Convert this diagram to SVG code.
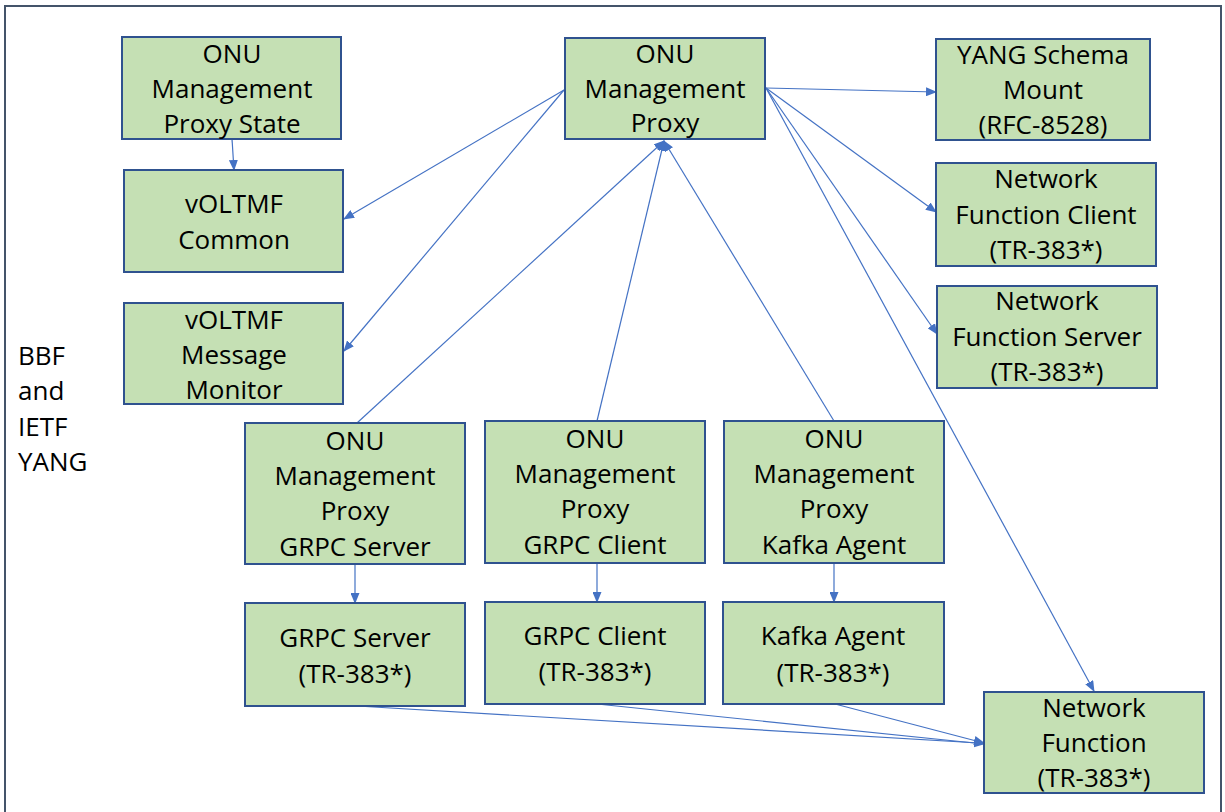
<svg xmlns="http://www.w3.org/2000/svg" width="1225" height="812" viewBox="0 0 1225 812">
<style>
.box{fill:#C5E0B4;stroke:#2F528F;stroke-width:2}
.t{font-family:"Open Sans","Liberation Sans",sans-serif;font-size:26px;fill:#000;text-anchor:middle}
.l{font-family:"Open Sans","Liberation Sans",sans-serif;font-size:26px;fill:#000}
.c{stroke:#4472C4;stroke-width:1.2;fill:none;marker-end:url(#ah)}
</style>
<defs>
<marker id="ah" markerUnits="userSpaceOnUse" markerWidth="11" markerHeight="9" refX="10" refY="4.5" orient="auto">
<path d="M0,0 L11,4.5 L0,9 z" fill="#4472C4"/>
</marker>
</defs>
<rect width="1225" height="812" fill="#fff"/>
<rect x="5" y="6" width="1216" height="820" fill="none" stroke="#44546A" stroke-width="2"/>
<text class="l" x="18"><tspan x="18" y="365">BBF</tspan><tspan x="18" y="400">and</tspan><tspan x="18" y="436">IETF</tspan><tspan x="18" y="471">YANG</tspan></text>

<g id="connectors">
<line class="c" x1="232" y1="139" x2="234" y2="170"/>
<line class="c" x1="564" y1="90" x2="344" y2="219"/>
<line class="c" x1="564" y1="90" x2="344" y2="351"/>
<line class="c" x1="766" y1="88" x2="936" y2="92"/>
<line class="c" x1="766" y1="88" x2="936" y2="212"/>
<line class="c" x1="766" y1="88" x2="937" y2="334"/>
<line class="c" x1="766" y1="88" x2="1094" y2="691"/>
<line class="c" x1="357" y1="423" x2="664" y2="141"/>
<line class="c" x1="597" y1="421" x2="664" y2="141"/>
<line class="c" x1="834" y1="421" x2="664" y2="141"/>
<line class="c" x1="355" y1="564" x2="355" y2="603"/>
<line class="c" x1="597" y1="563" x2="597" y2="602"/>
<line class="c" x1="834" y1="563" x2="834" y2="602"/>
<line class="c" x1="357" y1="706" x2="1013" y2="745"/>
<line class="c" x1="597" y1="704" x2="984" y2="744"/>
<line class="c" x1="835" y1="704" x2="984" y2="743"/>
</g>

<g id="proxy-state">
<rect class="box" x="122" y="37" width="219" height="102"/>
<text class="t"><tspan x="232" y="63">ONU</tspan><tspan x="232" y="98">Management</tspan><tspan x="232" y="133">Proxy State</tspan></text>
</g>
<g id="voltmf-common">
<rect class="box" x="124" y="170" width="219" height="102"/>
<text class="t"><tspan x="234" y="213">vOLTMF</tspan><tspan x="234" y="249">Common</tspan></text>
</g>
<g id="voltmf-monitor">
<rect class="box" x="124" y="303" width="219" height="101"/>
<text class="t"><tspan x="234" y="329">vOLTMF</tspan><tspan x="234" y="364">Message</tspan><tspan x="234" y="399">Monitor</tspan></text>
</g>
<g id="onu-proxy">
<rect class="box" x="565" y="38" width="200" height="101"/>
<text class="t"><tspan x="665" y="63">ONU</tspan><tspan x="665" y="98">Management</tspan><tspan x="665" y="132">Proxy</tspan></text>
</g>
<g id="yang-mount">
<rect class="box" x="936" y="39" width="214" height="101"/>
<text class="t"><tspan x="1043" y="64">YANG Schema</tspan><tspan x="1043" y="99">Mount</tspan><tspan x="1043" y="134">(RFC-8528)</tspan></text>
</g>
<g id="nf-client">
<rect class="box" x="936" y="163" width="220" height="103"/>
<text class="t"><tspan x="1046" y="188">Network</tspan><tspan x="1046" y="224">Function Client</tspan><tspan x="1046" y="259">(TR-383*)</tspan></text>
</g>
<g id="nf-server">
<rect class="box" x="937" y="286" width="220" height="102"/>
<text class="t"><tspan x="1047" y="310">Network</tspan><tspan x="1047" y="346">Function Server</tspan><tspan x="1047" y="381">(TR-383*)</tspan></text>
</g>
<g id="proxy-grpc-server">
<rect class="box" x="245" y="423" width="220" height="141"/>
<text class="t"><tspan x="355" y="450">ONU</tspan><tspan x="355" y="485">Management</tspan><tspan x="355" y="520">Proxy</tspan><tspan x="355" y="556">GRPC Server</tspan></text>
</g>
<g id="proxy-grpc-client">
<rect class="box" x="485" y="421" width="220" height="142"/>
<text class="t"><tspan x="595" y="448">ONU</tspan><tspan x="595" y="483">Management</tspan><tspan x="595" y="518">Proxy</tspan><tspan x="595" y="554">GRPC Client</tspan></text>
</g>
<g id="proxy-kafka">
<rect class="box" x="724" y="421" width="220" height="142"/>
<text class="t"><tspan x="834" y="448">ONU</tspan><tspan x="834" y="483">Management</tspan><tspan x="834" y="518">Proxy</tspan><tspan x="834" y="554">Kafka Agent</tspan></text>
</g>
<g id="grpc-server">
<rect class="box" x="245" y="603" width="220" height="103"/>
<text class="t"><tspan x="355" y="647">GRPC Server</tspan><tspan x="355" y="683">(TR-383*)</tspan></text>
</g>
<g id="grpc-client">
<rect class="box" x="485" y="602" width="220" height="102"/>
<text class="t"><tspan x="595" y="645">GRPC Client</tspan><tspan x="595" y="681">(TR-383*)</tspan></text>
</g>
<g id="kafka-agent">
<rect class="box" x="723" y="602" width="221" height="102"/>
<text class="t"><tspan x="833" y="645">Kafka Agent</tspan><tspan x="833" y="682">(TR-383*)</tspan></text>
</g>
<g id="network-function">
<rect class="box" x="984" y="692" width="220" height="101"/>
<text class="t"><tspan x="1094" y="717">Network</tspan><tspan x="1094" y="752">Function</tspan><tspan x="1094" y="787">(TR-383*)</tspan></text>
</g>
</svg>
